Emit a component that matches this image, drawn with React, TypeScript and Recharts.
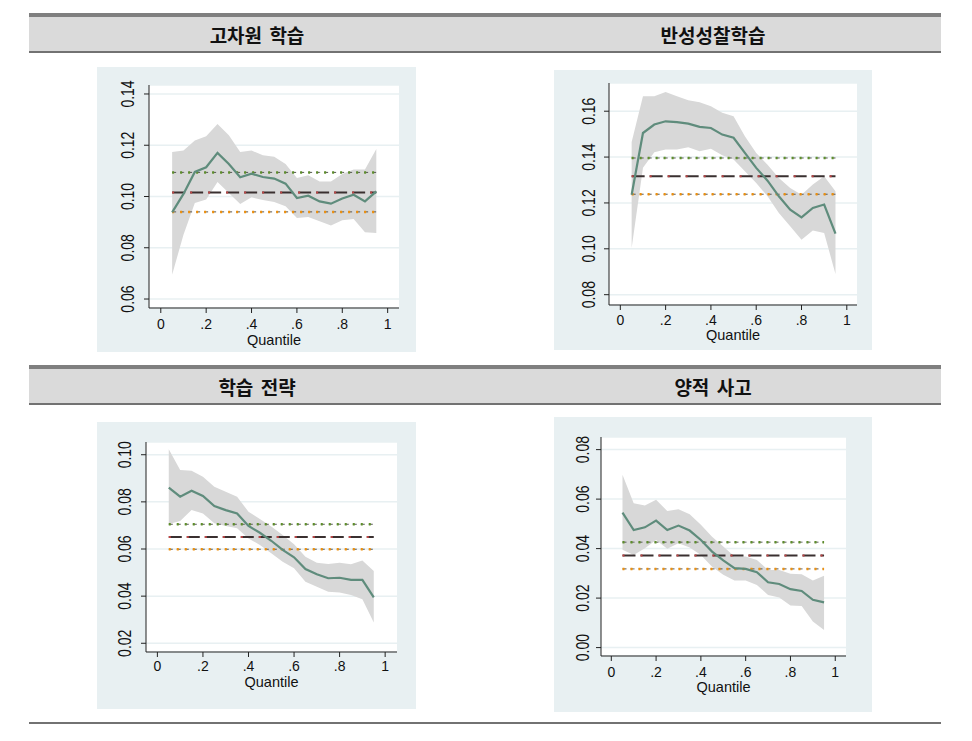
import {
  ComposedChart,
  Area,
  Line,
  XAxis,
  YAxis,
  CartesianGrid,
} from "recharts";

// quantiles estimated
const QUANTILES = [0.05, 0.1, 0.15, 0.2, 0.25, 0.3, 0.35, 0.4, 0.45, 0.5, 0.55, 0.6, 0.65, 0.7, 0.75, 0.8, 0.85, 0.9, 0.95];
const X_TICKS = [0, 0.2, 0.4, 0.6, 0.8, 1];

// 고차원 학습
const hdEst = [0.0938, 0.101, 0.1096, 0.1114, 0.117, 0.1127, 0.1075, 0.1089, 0.1076, 0.107, 0.105, 0.0994, 0.1003, 0.0981, 0.0972, 0.0992, 0.1007, 0.0981, 0.102];
const hdHi = [0.1174, 0.1179, 0.1218, 0.1235, 0.1283, 0.1239, 0.1174, 0.1179, 0.1161, 0.1155, 0.1127, 0.1072, 0.1083, 0.1059, 0.1059, 0.1088, 0.1105, 0.1105, 0.1185];
const hdLo = [0.0695, 0.0851, 0.0975, 0.0988, 0.1057, 0.1014, 0.0971, 0.0997, 0.0986, 0.0979, 0.0962, 0.0916, 0.092, 0.0903, 0.0887, 0.0907, 0.0912, 0.0861, 0.0858];
const hdOls = [0.094, 0.1016, 0.1094];
const hdTicks = [0.06, 0.08, 0.1, 0.12, 0.14];

// 반성성찰학습
const rfEst = [0.1236, 0.1505, 0.1542, 0.1556, 0.1552, 0.1546, 0.1532, 0.1527, 0.1498, 0.1484, 0.1418, 0.1353, 0.1297, 0.1229, 0.1171, 0.1137, 0.1178, 0.1193, 0.1066];
const rfHi = [0.1466, 0.1665, 0.1665, 0.1684, 0.1665, 0.1648, 0.1639, 0.1622, 0.1593, 0.1578, 0.1491, 0.1418, 0.1367, 0.1309, 0.1265, 0.1236, 0.128, 0.1316, 0.1251];
const rfLo = [0.1004, 0.1353, 0.1421, 0.1433, 0.1433, 0.1443, 0.1425, 0.1436, 0.1408, 0.1389, 0.1338, 0.1287, 0.1229, 0.1156, 0.1098, 0.104, 0.108, 0.1069, 0.089];
const rfOls = [0.1238, 0.1316, 0.1396];
const rfTicks = [0.08, 0.1, 0.12, 0.14, 0.16];

// 학습 전략
const lsEst = [0.086, 0.0822, 0.0847, 0.0825, 0.0782, 0.0765, 0.0751, 0.0698, 0.0669, 0.0635, 0.0596, 0.0565, 0.0515, 0.0493, 0.0476, 0.0478, 0.0469, 0.0469, 0.0395];
const lsHi = [0.1023, 0.0935, 0.0932, 0.0907, 0.0864, 0.0843, 0.0822, 0.0758, 0.0727, 0.0695, 0.0659, 0.062, 0.0567, 0.0542, 0.0536, 0.0542, 0.0535, 0.0551, 0.0507];
const lsLo = [0.0706, 0.0719, 0.0765, 0.0751, 0.0709, 0.0698, 0.0688, 0.0645, 0.0617, 0.0582, 0.0546, 0.0518, 0.0461, 0.044, 0.0419, 0.0415, 0.0405, 0.0387, 0.0288];
const lsOls = [0.0599, 0.0651, 0.0705];
const lsTicks = [0.02, 0.04, 0.06, 0.08, 0.1];

// 양적 사고
const qtEst = [0.0545, 0.0475, 0.0486, 0.0513, 0.0475, 0.0493, 0.0473, 0.0435, 0.0388, 0.0352, 0.0321, 0.0318, 0.0305, 0.0264, 0.0257, 0.0236, 0.0229, 0.0193, 0.0183];
const qtHi = [0.0698, 0.0583, 0.0574, 0.0597, 0.0552, 0.0559, 0.0539, 0.0496, 0.0448, 0.0408, 0.0368, 0.0368, 0.0354, 0.0314, 0.0314, 0.0298, 0.0296, 0.0271, 0.029];
const qtLo = [0.0395, 0.0374, 0.0401, 0.0435, 0.0399, 0.0422, 0.0404, 0.0374, 0.0327, 0.0294, 0.0271, 0.0271, 0.0253, 0.0213, 0.0202, 0.017, 0.0168, 0.0105, 0.0071];
const qtOls = [0.0318, 0.0372, 0.0426];
const qtTicks = [0, 0.02, 0.04, 0.06, 0.08];

const TITLES = ["고차원 학습", "반성성찰학습", "학습 전략", "양적 사고"];

const buildRows = (est: number[], lo: number[], hi: number[], ols: number[]) =>
  QUANTILES.map((q, i) => ({
    q,
    est: est[i],
    band: [lo[i], hi[i]],
    olsLo: ols[0],
    ols: ols[1],
    olsHi: ols[2],
  }));

const FONT = "'Liberation Sans', Arial, sans-serif";

const fmtX = (v: number) => (v === 0 ? "0" : v === 1 ? "1" : v.toFixed(1).replace(/^0/, ""));

const XTick = ({ x, y, payload }: any) => (
  <text x={x} y={y} textAnchor="middle" dominantBaseline="central" fontSize={14} fontFamily={FONT} fill="#111">
    {fmtX(payload.value)}
  </text>
);

const YTick = ({ x, y, payload }: any) => (
  <text
    transform={`translate(${x},${y}) rotate(-90) scale(1,1.25)`}
    textAnchor="middle"
    dominantBaseline="central"
    fontSize={14}
    fontFamily={FONT}
    fill="#111"
  >
    {payload.value.toFixed(2)}
  </text>
);

interface PanelProps {
  box: { x: number; y: number; w: number; h: number };
  plot: { l: number; r: number; t: number; b: number };
  rows: any[];
  yDomain: [number, number];
  yTicks: number[];
  xDomain: [number, number];
  yGap: number;
  xGap: number;
  qGap: number;
}

function Panel({ box, plot, rows, yDomain, yTicks, xDomain, yGap, xGap, qGap }: PanelProps) {
  return (
    <div style={{ position: "absolute", left: box.x, top: box.y, width: box.w, height: box.h, background: "#e8f0f2" }}>
      <ComposedChart width={box.w} height={box.h} data={rows} margin={{ top: plot.t, right: plot.r, left: 0, bottom: 0 }}>
        <CartesianGrid vertical={false} stroke="#e8f0f2" strokeWidth={1.5} fill="#ffffff" />
        <XAxis
          type="number"
          dataKey="q"
          domain={xDomain}
          ticks={X_TICKS}
          allowDataOverflow
          height={plot.b}
          tickSize={5}
          tickMargin={xGap - 5}
          stroke="#222"
          tickLine={{ stroke: "#222" }}
          tick={<XTick />}
          label={(p: any) => (
            <text
              x={p.viewBox.x + p.viewBox.width / 2}
              y={p.viewBox.y + qGap}
              textAnchor="middle"
              dominantBaseline="central"
              fontSize={14.5}
              fontFamily={FONT}
              fill="#111"
            >
              Quantile
            </text>
          )}
        />
        <YAxis
          type="number"
          domain={yDomain}
          ticks={yTicks}
          allowDataOverflow
          width={plot.l}
          tickSize={5}
          tickMargin={yGap - 5}
          stroke="#222"
          tickLine={{ stroke: "#222" }}
          tick={<YTick />}
        />
        <Area dataKey="band" stroke="none" fill="#d8d8d8" fillOpacity={1} isAnimationActive={false} />
        <Line dataKey="olsHi" stroke="#555" strokeWidth={1} strokeDasharray="4 4" dot={false} isAnimationActive={false} />
        <Line dataKey="olsHi" stroke="#5e8f2a" strokeWidth={2.5} strokeDasharray="2 6" dot={false} isAnimationActive={false} />
        <Line dataKey="ols" stroke="#3a3030" strokeWidth={2} strokeDasharray="13 5" dot={false} isAnimationActive={false} />
        <Line dataKey="ols" stroke="#c04545" strokeWidth={2} strokeDasharray="2 16" dot={false} isAnimationActive={false} />
        <Line dataKey="olsLo" stroke="#555" strokeWidth={1} strokeDasharray="4 4" dot={false} isAnimationActive={false} />
        <Line dataKey="olsLo" stroke="#f0900a" strokeWidth={2.5} strokeDasharray="2 6" dot={false} isAnimationActive={false} />
        <Line dataKey="est" stroke="#5f8c7c" strokeWidth={2.2} dot={false} isAnimationActive={false} />
      </ComposedChart>
    </div>
  );
}

function Header({ top, left, right }: { top: number; left: string; right: string }) {
  return (
    <div style={{ position: "absolute", left: 29, top, width: 912, height: 40 }}>
      <div style={{ height: 4, background: "#7f7f7f" }} />
      <div
        style={{
          height: 34,
          background: "#dadada",
          borderBottom: "2px solid #727272",
          display: "flex",
          alignItems: "center",
          fontFamily: "'Noto Sans CJK KR', sans-serif",
          fontWeight: 700,
          fontSize: 19,
          color: "#111",
        }}
      >
        <div style={{ width: 456, textAlign: "center", wordSpacing: 3 }}>{left}</div>
        <div style={{ width: 456, textAlign: "center", wordSpacing: 3 }}>{right}</div>
      </div>
    </div>
  );
}

export default function App() {
  return (
    <div style={{ position: "absolute", left: 0, top: 0, width: 972, height: 741, background: "#fff", overflow: "hidden" }}>
      <Header top={13} left={TITLES[0]} right={TITLES[1]} />
      <Header top={365} left={TITLES[2]} right={TITLES[3]} />
      <Panel
        box={{ x: 97, y: 67, w: 319, h: 285 }}
        plot={{ l: 52, r: 17, t: 18, b: 44 }}
        rows={buildRows(hdEst, hdLo, hdHi, hdOls)}
        yDomain={[0.0565, 0.1435]}
        yTicks={hdTicks}
        xDomain={[-0.052, 1.05]}
        yGap={21}
        xGap={16}
        qGap={32}
      />
      <Panel
        box={{ x: 554, y: 70, w: 318, h: 280 }}
        plot={{ l: 55, r: 15, t: 13, b: 45 }}
        rows={buildRows(rfEst, rfLo, rfHi, rfOls)}
        yDomain={[0.0755, 0.1723]}
        yTicks={rfTicks}
        xDomain={[-0.05, 1.045]}
        yGap={20}
        xGap={15}
        qGap={30}
      />
      <Panel
        box={{ x: 97, y: 422, w: 319, h: 287 }}
        plot={{ l: 49, r: 19, t: 20, b: 57 }}
        rows={buildRows(lsEst, lsLo, lsHi, lsOls)}
        yDomain={[0.0163, 0.1054]}
        yTicks={lsTicks}
        xDomain={[-0.05, 1.052]}
        yGap={21}
        xGap={14}
        qGap={30}
      />
      <Panel
        box={{ x: 554, y: 417, w: 318, h: 295 }}
        plot={{ l: 47, r: 26, t: 20, b: 56 }}
        rows={buildRows(qtEst, qtLo, qtHi, qtOls)}
        yDomain={[-0.0034, 0.0851]}
        yTicks={qtTicks}
        xDomain={[-0.046, 1.048]}
        yGap={18}
        xGap={16}
        qGap={31}
      />
      <div style={{ position: "absolute", left: 29, top: 722, width: 912, height: 2, background: "#727272" }} />
    </div>
  );
}
